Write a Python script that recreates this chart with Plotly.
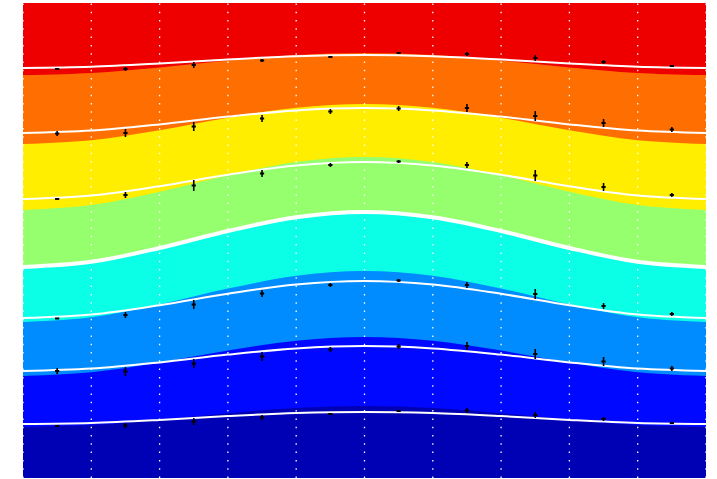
import plotly.graph_objects as go

# Horizontal positions: grid columns and sample centres
grid_x = [0, 1, 2, 3, 4, 5, 6, 7, 8, 9, 10]
sample_x = [0.5, 1.5, 2.5, 3.5, 4.5, 5.5, 6.5, 7.5, 8.5, 9.5]

DEPTH_MAX = 475

# Boundaries between the coloured layers (depth at each grid column)
bound_1 = [72, 69.9, 64.4, 57.6, 52.1, 50, 52.1, 57.6, 64.4, 69.9, 72]
bound_2 = [141, 137.2, 127.2, 114.8, 104.8, 101, 104.8, 114.8, 127.2, 137.2, 141]
bound_3 = [207, 202, 188.7, 172.3, 159, 154, 159, 172.3, 188.7, 202, 207]
bound_4 = [264, 258.8, 245, 228, 214.2, 209, 214.2, 228, 245, 258.8, 264]
bound_5 = [319, 314.2, 301.4, 285.6, 272.8, 268, 272.8, 285.6, 301.4, 314.2, 319]
bound_6 = [373, 369.3, 359.5, 347.5, 337.7, 334, 337.7, 347.5, 359.5, 369.3, 373]
bound_7 = [424, 422, 416.8, 410.2, 405, 403, 405, 410.2, 416.8, 422, 424]
bottom = [DEPTH_MAX] * 11

layer_colors = ["#EE0000", "#FF6E00", "#FFEE00", "#96FF6E",
                "#0AFFE6", "#008CFF", "#0008FF", "#0000B4"]

# Fitted interface curves (white)
fit_1 = [65, 63.8, 60.5, 56.5, 53.2, 52, 53.2, 56.5, 60.5, 63.8, 65]
fit_2 = [130, 127.6, 121.4, 113.6, 107.4, 105, 107.4, 113.6, 121.4, 127.6, 130]
fit_3 = [196, 192.5, 183.2, 171.8, 162.5, 159, 162.5, 171.8, 183.2, 192.5, 196]
fit_4 = [264, 258.8, 245, 228, 214.2, 209, 214.2, 228, 245, 258.8, 264]
fit_5 = [315, 311.5, 302.2, 290.8, 281.5, 278, 281.5, 290.8, 302.2, 311.5, 315]
fit_6 = [368, 365.6, 359.4, 351.6, 345.4, 343, 345.4, 351.6, 359.4, 365.6, 368]
fit_7 = [421, 419.9, 416.9, 413.1, 410.1, 409, 410.1, 413.1, 416.9, 419.9, 421]

# Picked interface depths with uncertainties
pick_1 = [66, 66, 62, 57.5, 54, 50, 51, 55, 59, 63]
err_1 = [0.6, 2, 3, 1.5, 0.6, 0.6, 2, 3, 2, 0.6]
pick_2 = [130.5, 130, 123.5, 115.5, 108.5, 105.5, 105, 113, 120, 126.5]
err_2 = [2.5, 4, 4.5, 3.5, 2.5, 2.5, 4, 5, 4, 2.5]
pick_3 = [196, 192, 182.5, 170.5, 162, 158.5, 162, 172.5, 184, 192]
err_3 = [0.6, 3, 5.5, 3.5, 2, 1.5, 3, 5.5, 4, 2]
pick_5 = [315.5, 312, 301.5, 290.5, 282, 277.5, 282, 291, 303, 311]
err_5 = [0.6, 3, 4.5, 3.5, 2, 1.5, 3, 5, 3, 2]
pick_6 = [368, 368.5, 360.5, 353.5, 346.5, 343.5, 343, 351, 358.5, 365.5]
err_6 = [3, 4.5, 4.5, 4.5, 2.5, 2.5, 4, 5, 4.5, 2.5]
pick_7 = [423, 422.5, 418.5, 414.5, 411, 408, 407.5, 412, 416, 420]
err_7 = [0.6, 2.5, 3.5, 2.5, 0.6, 0.6, 2.5, 3, 2, 1]

fig = go.Figure()

# Layers: each fill covers everything above its lower boundary,
# painted from the deepest layer upwards.
boundaries = [bottom, bound_7, bound_6, bound_5, bound_4, bound_3, bound_2, bound_1]
fill_colors = layer_colors[::-1]
for b, c in zip(boundaries, fill_colors):
    fig.add_trace(go.Scatter(
        x=grid_x, y=b, mode="lines", fill="tozeroy", fillcolor=c,
        line=dict(width=0, shape="spline", color=c), hoverinfo="skip",
        showlegend=False))

# Fitted curves
for f, w in [(fit_1, 2), (fit_2, 2), (fit_3, 2), (fit_4, 4),
             (fit_5, 2), (fit_6, 2), (fit_7, 2)]:
    fig.add_trace(go.Scatter(
        x=grid_x, y=f, mode="lines",
        line=dict(color="white", width=w, shape="spline"),
        showlegend=False, hoverinfo="skip"))

# Picks with error bars
for p, e in [(pick_1, err_1), (pick_2, err_2), (pick_3, err_3),
             (pick_5, err_5), (pick_6, err_6), (pick_7, err_7)]:
    fig.add_trace(go.Scatter(
        x=sample_x, y=p, mode="markers",
        marker=dict(symbol="line-ew", size=3, color="black",
                    line=dict(color="black", width=2)),
        error_y=dict(type="data", array=e, visible=True, color="black",
                     thickness=1.6, width=0),
        showlegend=False))

# Dotted vertical grid drawn above the layers
for gx in grid_x:
    fig.add_shape(type="line", xref="x", yref="paper", x0=gx, x1=gx,
                  y0=0, y1=1, layer="above",
                  line=dict(color="white", width=1.3, dash="1.5px,6.8px"))

fig.update_layout(
    width=717, height=479,
    margin=dict(l=23, r=11, t=3, b=1),
    paper_bgcolor="white", plot_bgcolor="#0000B4",
    xaxis=dict(range=[0, 10], showgrid=False, zeroline=False,
               showticklabels=False, ticks="", showline=False),
    yaxis=dict(range=[DEPTH_MAX, 0], showgrid=False, zeroline=False,
               showticklabels=False, ticks="", showline=False),
)

fig.write_html("out.html")
